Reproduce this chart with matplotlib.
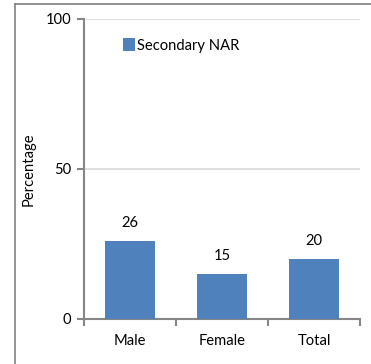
import matplotlib.pyplot as plt
from matplotlib.lines import Line2D

categories = ["Male", "Female", "Total"]
values = [26, 15, 20]
series_name = "Secondary NAR"

plt.rcParams['font.family'] = ['Lato', 'DejaVu Sans']
fs = 10.6

fig = plt.figure(figsize=(3.71, 3.64), dpi=100)
ax = fig.add_axes([84/371, 45/364, 276/371, 300/364])

x = range(len(categories))
bars = ax.bar(x, values, width=0.55, color="#4F81BD", label=series_name, zorder=3)
for b, v in zip(bars, values):
    ax.annotate(str(v), (b.get_x() + b.get_width()/2, v), xytext=(0, 8),
                textcoords="offset points", ha="center", va="bottom", fontsize=fs)

ax.set_xlim(-0.5, len(categories) - 0.5)
ax.set_ylim(0, 100)
ax.set_yticks([0, 50, 100])
ax.set_xticks(list(x))
ax.set_xticklabels(categories, fontsize=fs)
ax.set_xticks([-0.5, 0.5, 1.5, 2.5], minor=True)
ax.tick_params(axis="x", which="major", length=0, pad=11)
ax.tick_params(axis="x", which="minor", length=5, color="#868686", width=1.5)
ax.tick_params(axis="y", length=5, color="#868686", width=1.5, labelsize=fs, pad=4)
ax.grid(axis="y", color="#D9D9D9", linewidth=1.2, zorder=0)
for s in ["top", "right"]:
    ax.spines[s].set_visible(False)
for s in ["left", "bottom"]:
    ax.spines[s].set_color("#868686")
    ax.spines[s].set_linewidth(1.5)
ax.set_ylabel("Percentage", fontsize=fs, labelpad=7)

ax.legend(loc="upper left", bbox_to_anchor=(0.115, 0.96), frameon=False, fontsize=fs,
          handlelength=0.8, handleheight=0.9, handletextpad=0.15, borderpad=0)

# outer chart border (top and left edges visible)
fig.add_artist(Line2D([15/371, 1], [1 - 4/364, 1 - 4/364], color="#808080", lw=1.2))
fig.add_artist(Line2D([15/371, 15/371], [0, 1 - 4/364], color="#808080", lw=1.2))

fig.savefig("out.png", dpi=100)
